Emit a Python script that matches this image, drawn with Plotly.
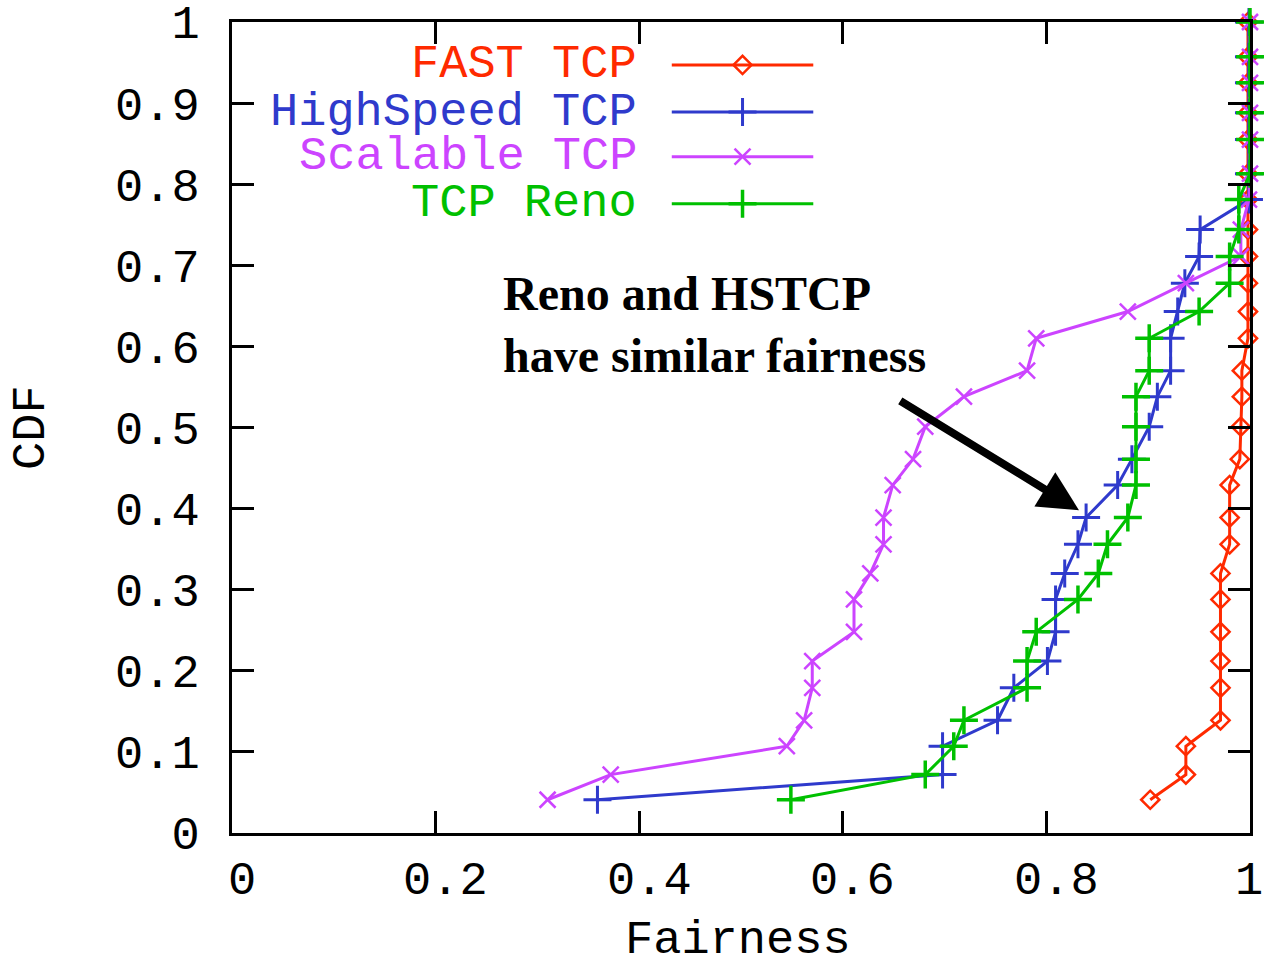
import plotly.graph_objects as go

# Cumulative fraction levels shared by all four runs
cdf = [0.041, 0.072, 0.107, 0.139, 0.179, 0.212, 0.248, 0.288, 0.320, 0.356,
       0.389, 0.429, 0.461, 0.501, 0.538, 0.570, 0.610, 0.643, 0.678, 0.711,
       0.744, 0.781, 0.813, 0.855, 0.888, 0.925, 0.957, 1.000]

# Fairness index observed for each protocol (sorted)
fast_tcp = [0.902, 0.937, 0.937, 0.971, 0.971, 0.971, 0.971, 0.971, 0.971, 0.980,
            0.980, 0.980, 0.990, 0.991, 0.992, 0.992, 0.998, 0.998, 0.998, 0.998,
            0.998, 0.998, 0.998, 0.998, 0.998, 0.998, 0.998, 0.998]
highspeed_tcp = [0.359, 0.698, 0.698, 0.752, 0.768, 0.801, 0.809, 0.809, 0.818, 0.831,
                 0.839, 0.870, 0.884, 0.901, 0.909, 0.922, 0.922, 0.929, 0.936, 0.950,
                 0.951, 0.999, 0.999, 0.999, 0.999, 0.999, 0.999, 0.999]
scalable_tcp = [0.310, 0.372, 0.545, 0.562, 0.570, 0.570, 0.611, 0.611, 0.627, 0.640,
                0.640, 0.649, 0.669, 0.681, 0.719, 0.781, 0.790, 0.880, 0.937, 0.991,
                0.991, 0.999, 1.000, 1.000, 1.000, 1.000, 1.000, 1.000]
tcp_reno = [0.549, 0.681, 0.709, 0.719, 0.781, 0.781, 0.790, 0.831, 0.851, 0.860,
            0.880, 0.888, 0.888, 0.888, 0.888, 0.901, 0.901, 0.950, 0.980, 0.980,
            0.989, 0.989, 1.000, 1.000, 1.000, 1.000, 1.000, 1.000]

series_names = ["FAST TCP", "HighSpeed TCP", "Scalable TCP", "TCP Reno"]
series_values = [fast_tcp, highspeed_tcp, scalable_tcp, tcp_reno]

x_ticks = [0, 0.2, 0.4, 0.6, 0.8, 1]
x_tick_text = ["0", "0.2", "0.4", "0.6", "0.8", "1"]
y_ticks = [0, 0.1, 0.2, 0.3, 0.4, 0.5, 0.6, 0.7, 0.8, 0.9, 1]
y_tick_text = ["0", "0.1", "0.2", "0.3", "0.4", "0.5", "0.6", "0.7", "0.8", "0.9", "1"]

colors = ["#FF2A00", "#2F3ACC", "#CC44FF", "#00C000"]
symbols = ["diamond-open", "cross-thin-open", "x-thin-open", "cross-thin-open"]
msizes = [14, 20, 16, 20]
mwidths = [2.5, 3, 2.5, 3.5]
lwidths = [3, 3, 3, 3]

MONO = "Liberation Mono"
FONT_SIZE = 47

fig = go.Figure()

for name, vals, col, sym, ms, mw, lw in zip(series_names, series_values, colors,
                                             symbols, msizes, mwidths, lwidths):
    fig.add_trace(go.Scatter(
        x=vals, y=cdf, name=name, mode="lines+markers",
        line=dict(color=col, width=lw),
        marker=dict(symbol=sym, size=ms, color=col, line=dict(color=col, width=mw)),
        cliponaxis=False, showlegend=False,
    ))

# Key: label text right-aligned, followed by a line sample with its marker
key_rows_y = [0.947, 0.889, 0.834, 0.776]
key_text_x = 0.400
key_line_x0, key_line_x1 = 0.432, 0.571
for name, col, sym, ms, mw, lw, ky in zip(series_names, colors, symbols, msizes,
                                          mwidths, lwidths, key_rows_y):
    fig.add_annotation(x=key_text_x, y=ky, xref="paper", yref="paper",
                       text=name, showarrow=False, xanchor="right", yanchor="middle",
                       font=dict(family=MONO, size=FONT_SIZE, color=col))
    fig.add_trace(go.Scatter(
        x=[key_line_x0, (key_line_x0 + key_line_x1) / 2, key_line_x1], y=[ky, ky, ky],
        xaxis="x2", yaxis="y2", mode="lines",
        line=dict(color=col, width=lw), showlegend=False, hoverinfo="skip",
    ))
    fig.add_trace(go.Scatter(
        x=[(key_line_x0 + key_line_x1) / 2], y=[ky],
        xaxis="x2", yaxis="y2", mode="markers",
        marker=dict(symbol=sym, size=ms, color=col, line=dict(color=col, width=mw)),
        showlegend=False, hoverinfo="skip",
    ))

# X tick labels, set slightly right of their ticks; the last one kept inside the page
for v, t in zip(x_ticks, x_tick_text):
    last = v == x_ticks[-1]
    fig.add_annotation(x=v, y=-0.060, xref="x", yref="paper", text=t,
                       showarrow=False, yanchor="middle",
                       xanchor="right" if last else "center",
                       xshift=15 if last else 10,
                       font=dict(family=MONO, size=FONT_SIZE, color="black"))

# Callout text and arrow
fig.add_annotation(x=0.264, y=0.700, xref="paper", yref="paper",
                   text="<b>Reno and HSTCP<br>have similar fairness</b>",
                   showarrow=False, xanchor="left", yanchor="top", align="left",
                   font=dict(family="Liberation Serif", size=48, color="black"))
fig.add_annotation(x=0.832, y=0.398, ax=0.655, ay=0.534,
                   xref="x", yref="y", axref="x", ayref="y",
                   text="", showarrow=True, arrowhead=2, arrowsize=1,
                   arrowwidth=8, arrowcolor="black")

# Axis titles
fig.add_annotation(x=0.497, y=-0.168, xref="paper", yref="paper",
                   text="Fairness", showarrow=False, xanchor="center", yanchor="bottom",
                   font=dict(family=MONO, size=FONT_SIZE, color="black"))
fig.add_annotation(x=-0.197, y=0.5, xref="paper", yref="paper",
                   text="CDF", showarrow=False, textangle=-90,
                   xanchor="center", yanchor="middle",
                   font=dict(family=MONO, size=FONT_SIZE, color="black"))

axis_common = dict(
    showgrid=False, zeroline=False, showline=True, linecolor="black", linewidth=3,
    mirror="ticks", ticks="inside", ticklen=22, tickwidth=3, tickcolor="black",
    tickfont=dict(family=MONO, size=FONT_SIZE, color="black"), automargin=False,
    ticklabeloverflow="allow",
)

fig.update_layout(
    width=1266, height=966,
    margin=dict(l=232, r=16, t=22, b=133),
    paper_bgcolor="white", plot_bgcolor="white",
    xaxis=dict(range=[0, 1], tickvals=x_ticks, showticklabels=False, **axis_common),
    yaxis=dict(range=[0, 1], tickvals=y_ticks, ticktext=y_tick_text,
               ticklabelstandoff=20, **axis_common),
    xaxis2=dict(range=[0, 1], overlaying="x", visible=False, domain=[0, 1]),
    yaxis2=dict(range=[0, 1], overlaying="y", visible=False, anchor="x2"),
    showlegend=False,
)

fig.write_html("out.html")
